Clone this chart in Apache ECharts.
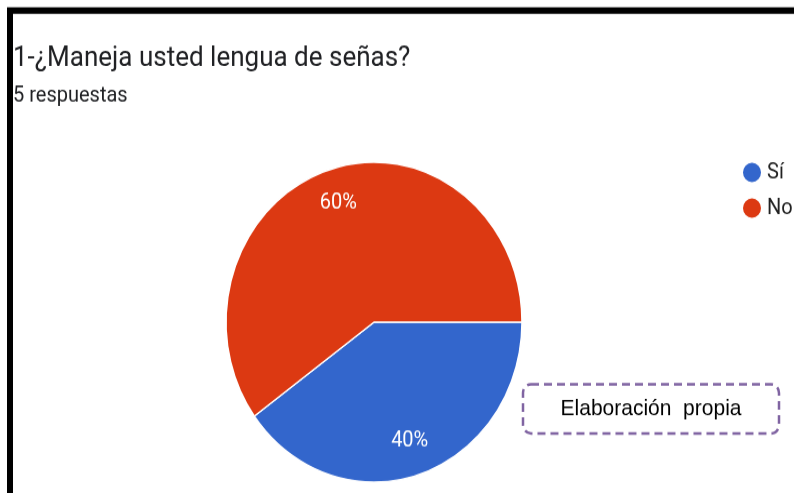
<!DOCTYPE html>
<html>
<head>
<meta charset="utf-8">
<script src="https://cdn.jsdelivr.net/npm/echarts@6/dist/echarts.min.js"></script>
<style>
  html, body { margin: 0; padding: 0; background: #fff; overflow: hidden; }
  #wrap { width: 794px; height: 493px; overflow: hidden; position: relative; }
  /* la captura original está estirada en vertical */
  #chart { width: 794px; height: 456px; transform: scaleY(1.081); transform-origin: 0 0; }
</style>
</head>
<body>
<div id="wrap"><div id="chart"></div></div>
<script>
// datos de la encuesta
const categories = ['Sí', 'No']
const counts = [2, 3] // 5 respuestas
const sliceColors = ['#3366cc', '#dc3912']

const titleText = '1-¿Maneja usted lengua de señas?'
const subtitleText = counts.reduce((a, b) => a + b, 0) + ' respuestas'
const noteText = 'Elaboración  propia'

const pieData = categories.map((name, i) => ({
  name: name,
  value: counts[i],
  itemStyle: { color: sliceColors[i] }
}))

const chart = echarts.init(document.getElementById('chart'), null, { renderer: 'canvas' })

const option = {
  backgroundColor: '#fff',
  animation: false,
  legend: {
    orient: 'vertical',
    left: 741,
    top: 148.5,
    padding: 0,
    icon: 'circle',
    itemWidth: 20,
    itemHeight: 20,
    itemGap: 11,
    data: categories.map((name, i) => ({ name: name, itemStyle: { color: sliceColors[i] } })),
    textStyle: { fontFamily: 'Roboto', fontSize: 20, color: '#222' }
  },
  graphic: [
    // marco negro
    {
      type: 'rect',
      shape: { x: 10, y: 9.7, width: 900, height: 600 },
      style: { fill: 'none', stroke: '#000', lineWidth: 6 },
      silent: true
    },
    {
      type: 'text',
      x: 13,
      y: 54.5,
      style: {
        text: titleText,
        font: '26px Roboto',
        fill: '#202124',
        verticalAlign: 'middle'
      }
    },
    {
      type: 'text',
      x: 13,
      y: 89,
      style: {
        text: subtitleText,
        font: '20px Roboto',
        fill: '#202124',
        verticalAlign: 'middle'
      }
    },
    // recuadro "Elaboración propia"
    {
      type: 'rect',
      shape: { x: 523, y: 355.5, width: 256, height: 45.5, r: 8 },
      style: {
        fill: 'none',
        stroke: '#8064a2',
        lineWidth: 2.5,
        lineDash: [8, 5]
      }
    },
    {
      type: 'text',
      x: 651,
      y: 378,
      style: {
        text: noteText,
        font: '21px "Liberation Sans", Arial',
        fill: '#000',
        align: 'center',
        verticalAlign: 'middle'
      }
    }
  ],
  series: [
    {
      type: 'pie',
      center: [374, 298],
      radius: 148,
      startAngle: 0,
      clockwise: true,
      data: pieData,
      label: { show: false },
      labelLine: { show: false },
      itemStyle: { borderColor: '#fff', borderWidth: 1.5 },
      emphasis: { scale: false }
    },
    // serie transparente sólo para colocar las etiquetas de porcentaje
    {
      type: 'pie',
      center: [374, 298],
      radius: 225,
      startAngle: 0,
      clockwise: true,
      silent: true,
      legendHoverLink: false,
      data: pieData.map(d => ({ name: d.name, value: d.value, itemStyle: { color: 'rgba(0,0,0,0)' } })),
      label: {
        show: true,
        position: 'inside',
        formatter: '{d}%',
        color: '#fff',
        fontFamily: 'Roboto',
        fontSize: 20,
        textBorderWidth: 0
      },
      labelLine: { show: false },
      emphasis: { disabled: true }
    }
  ]
}

chart.setOption(option)
</script>
</body>
</html>
